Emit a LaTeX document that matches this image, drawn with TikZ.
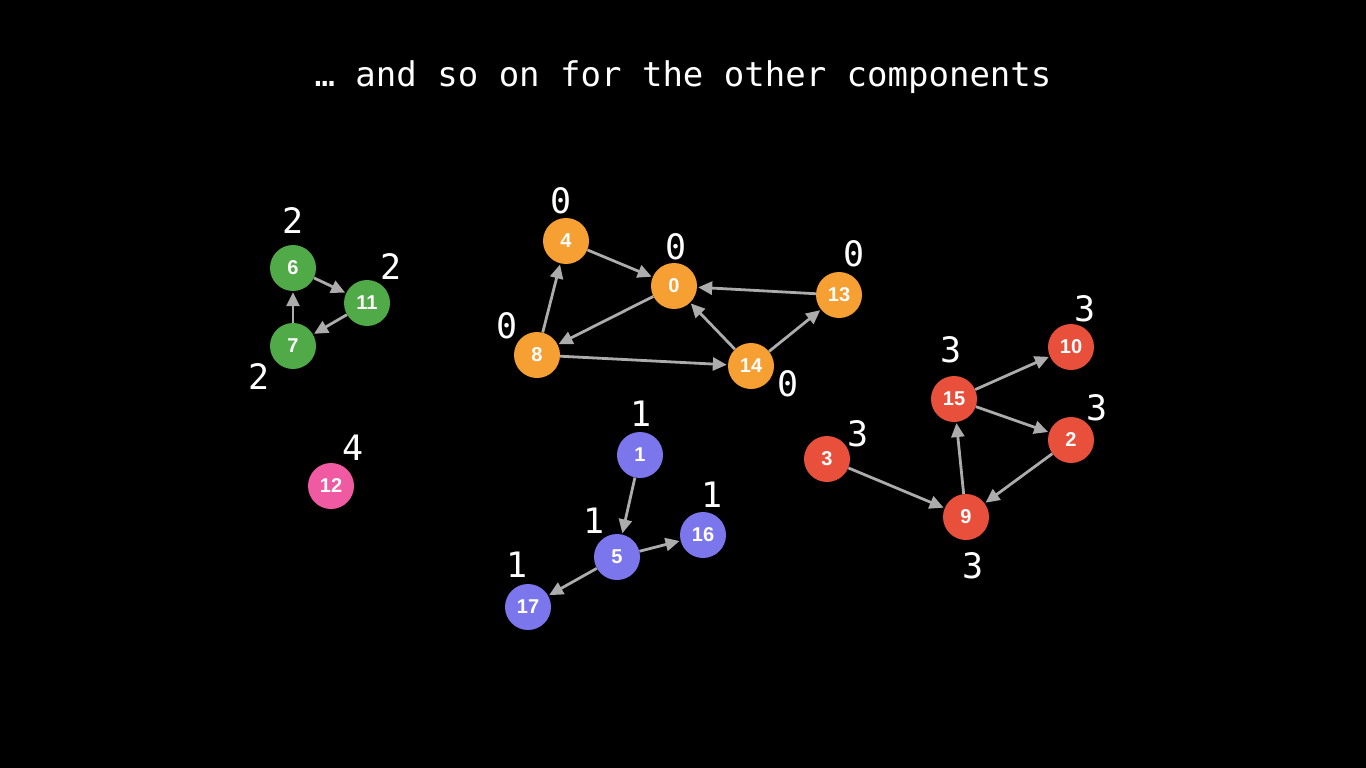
\documentclass[tikz,border=0pt]{standalone}
\usepackage{fontspec}
\setmainfont{Liberation Sans}
\setmonofont{DejaVu Sans Mono}
\usetikzlibrary{arrows.meta}

\definecolor{grn}{RGB}{80,170,72}
\definecolor{org}{RGB}{246,160,52}
\definecolor{blu}{RGB}{124,118,236}
\definecolor{rd}{RGB}{232,80,60}
\definecolor{pnk}{RGB}{240,90,162}
\definecolor{edgegray}{RGB}{172,172,172}

\begin{document}
\begin{tikzpicture}[x=1pt,y=-1pt,
    vert/.style={circle, minimum size=46pt, inner sep=0pt, text=white,
                 font=\fontsize{20}{20}\selectfont\bfseries},
    lowlink/.style={text=white, font=\fontsize{35}{35}\selectfont\ttfamily},
    edge/.style={edgegray, line width=2.8pt,
                 -{Triangle[length=14pt,width=13pt]}, shorten >=1pt}]

    \fill[black] (0,0) rectangle (1366,768);
    \useasboundingbox (0,0) rectangle (1366,768);

    \node[text=white, font=\fontsize{34}{34}\selectfont\ttfamily] (title) at (683,77) {… and so on for the other components};

    % green component
    \node[vert, fill=grn] (n6) at (293,268) {6};
    \node[vert, fill=grn] (n11) at (367,303) {11};
    \node[vert, fill=grn] (n7) at (293,346) {7};

    \node[lowlink] (l6) at (293,221) {2};
    \node[lowlink] (l11) at (391,267) {2};
    \node[lowlink] (l7) at (259,377) {2};

    \draw[edge] (n6) -- (n11);
    \draw[edge] (n11) -- (n7);
    \draw[edge] (n7) -- (n6);

    % pink component
    \node[vert, fill=pnk] (n12) at (331,486) {12};
    \node[lowlink] (l12) at (353,448) {4};

    % orange component
    \node[vert, fill=org] (n4) at (566,241) {4};
    \node[vert, fill=org] (n0) at (674,286) {0};
    \node[vert, fill=org] (n13) at (839,295) {13};
    \node[vert, fill=org] (n8) at (537,355) {8};
    \node[vert, fill=org] (n14) at (751,366) {14};

    \node[lowlink] (l4) at (561,201) {0};
    \node[lowlink] (l0) at (676,247) {0};
    \node[lowlink] (l13) at (854,254) {0};
    \node[lowlink] (l8) at (507,326) {0};
    \node[lowlink] (l14) at (788,384) {0};

    \draw[edge] (n4) -- (n0);
    \draw[edge] (n13) -- (n0);
    \draw[edge] (n0) -- (n8);
    \draw[edge] (n8) -- (n4);
    \draw[edge] (n8) -- (n14);
    \draw[edge] (n14) -- (n0);
    \draw[edge] (n14) -- (n13);

    % blue component
    \node[vert, fill=blu] (n1) at (640,455) {1};
    \node[vert, fill=blu] (n5) at (617,557) {5};
    \node[vert, fill=blu] (n16) at (703,535) {16};
    \node[vert, fill=blu] (n17) at (528,607) {17};

    \node[lowlink] (l1) at (641,414) {1};
    \node[lowlink] (l16) at (712,495) {1};
    \node[lowlink] (l5) at (594,521) {1};
    \node[lowlink] (l17) at (517,565) {1};

    \draw[edge] (n1) -- (n5);
    \draw[edge] (n5) -- (n16);
    \draw[edge] (n5) -- (n17);

    % red component
    \node[vert, fill=rd] (n10) at (1071,347) {10};
    \node[vert, fill=rd] (n15) at (954,399) {15};
    \node[vert, fill=rd] (n2) at (1071,440) {2};
    \node[vert, fill=rd] (n3) at (827,459) {3};
    \node[vert, fill=rd] (n9) at (966,517) {9};

    \node[lowlink] (l10) at (1085,309) {3};
    \node[lowlink] (l15) at (951,350) {3};
    \node[lowlink] (l2) at (1097,408) {3};
    \node[lowlink] (l3) at (858,434) {3};
    \node[lowlink] (l9) at (973,566) {3};

    \draw[edge] (n15) -- (n10);
    \draw[edge] (n15) -- (n2);
    \draw[edge] (n2) -- (n9);
    \draw[edge] (n3) -- (n9);
    \draw[edge] (n9) -- (n15);

\end{tikzpicture}
\end{document}
